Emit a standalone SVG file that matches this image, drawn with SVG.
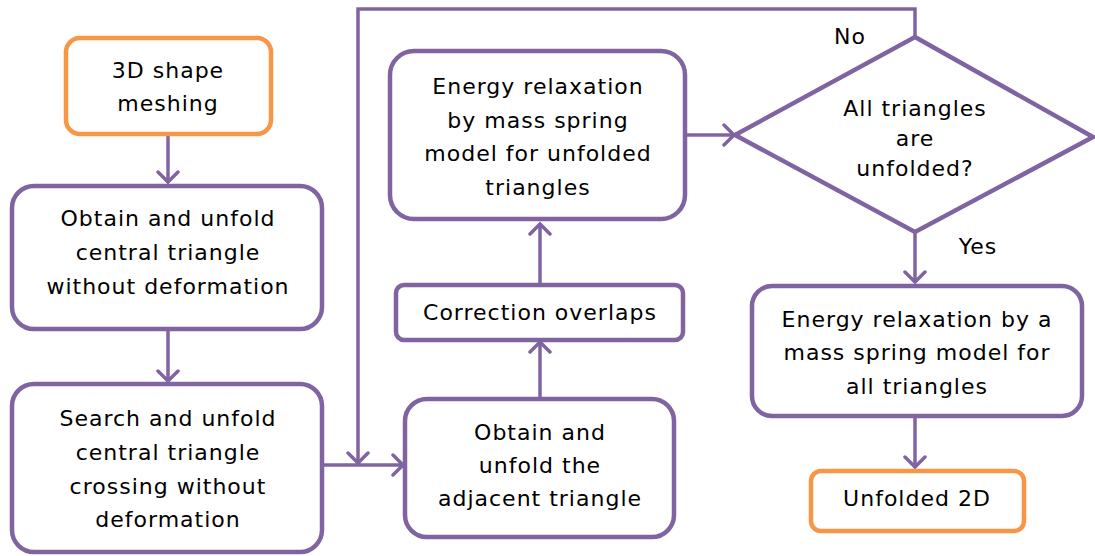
<svg xmlns="http://www.w3.org/2000/svg" width="1095" height="556" viewBox="0 0 1095 556">
<defs>
<style>
.box{fill:#fff;stroke:#8064A2;stroke-width:4.5}
.term{fill:#fff;stroke:#F79646;stroke-width:4.5}
.c{fill:none;stroke:#8064A2;stroke-width:3.5}
text{font-family:"DejaVu Sans","Verdana",sans-serif;font-size:22px;letter-spacing:1px;fill:#000;text-anchor:middle}
</style>
<marker id="ah" markerUnits="userSpaceOnUse" markerWidth="24" markerHeight="24" refX="12" refY="12" orient="auto" viewBox="0 0 24 24">
<path d="M2,2 L12,12 L2,22" fill="none" stroke="#8064A2" stroke-width="3.5" stroke-linecap="round"/>
</marker>
</defs>
<rect width="1095" height="556" fill="#fff"/>
<g id="connectors">
<path class="c" d="M168,135 V182" marker-end="url(#ah)"/>
<path class="c" d="M168,330 V381" marker-end="url(#ah)"/>
<path class="c" d="M322,465 H403" marker-end="url(#ah)"/>
<path class="c" d="M915,37 V9 H358 V463" marker-end="url(#ah)"/>
<path class="c" d="M540,398 V342" marker-end="url(#ah)"/>
<path class="c" d="M540,284 V224" marker-end="url(#ah)"/>
<path class="c" d="M685,135 H734" marker-end="url(#ah)"/>
<path class="c" d="M915,232 V282" marker-end="url(#ah)"/>
<path class="c" d="M915,417 V467" marker-end="url(#ah)"/>
</g>
<g id="n1"><rect class="term" x="66" y="38" width="205" height="96" rx="14"/>
<text x="168" y="78">3D shape</text><text x="168" y="111">meshing</text></g>
<g id="n2"><rect class="box" x="12" y="186" width="310" height="143" rx="22"/>
<text x="168" y="226">Obtain and unfold</text><text x="168" y="260">central triangle</text><text x="168" y="294">without deformation</text></g>
<g id="n3"><rect class="box" x="12" y="384" width="310" height="168" rx="22"/>
<text x="168" y="426">Search and unfold</text><text x="168" y="460">central triangle</text><text x="168" y="494">crossing without</text><text x="168" y="527">deformation</text></g>
<g id="n4"><rect class="box" x="405" y="399" width="269" height="138" rx="22"/>
<text x="540" y="440">Obtain and</text><text x="540" y="473">unfold the</text><text x="540" y="506">adjacent triangle</text></g>
<g id="n5"><rect class="box" x="396" y="285" width="287" height="55" rx="8"/>
<text x="540" y="320">Correction overlaps</text></g>
<g id="n6"><rect class="box" x="390" y="51" width="295" height="168" rx="24"/>
<text x="538" y="94">Energy relaxation</text><text x="538" y="128">by mass spring</text><text x="538" y="161">model for unfolded</text><text x="538" y="195">triangles</text></g>
<g id="n7"><polygon class="box" points="915,37 1093,137 915,232 735,135"/>
<text x="915" y="116">All triangles</text><text x="915" y="146">are</text><text x="915" y="176">unfolded?</text></g>
<g id="n8"><rect class="box" x="752" y="286" width="330" height="130" rx="20"/>
<text x="917" y="327">Energy relaxation by a</text><text x="917" y="360">mass spring model for</text><text x="917" y="394">all triangles</text></g>
<g id="n9"><rect class="term" x="811" y="471" width="213" height="60" rx="10"/>
<text x="917" y="506">Unfolded 2D</text></g>
<text x="850" y="44">No</text>
<text x="978" y="254">Yes</text>
</svg>
